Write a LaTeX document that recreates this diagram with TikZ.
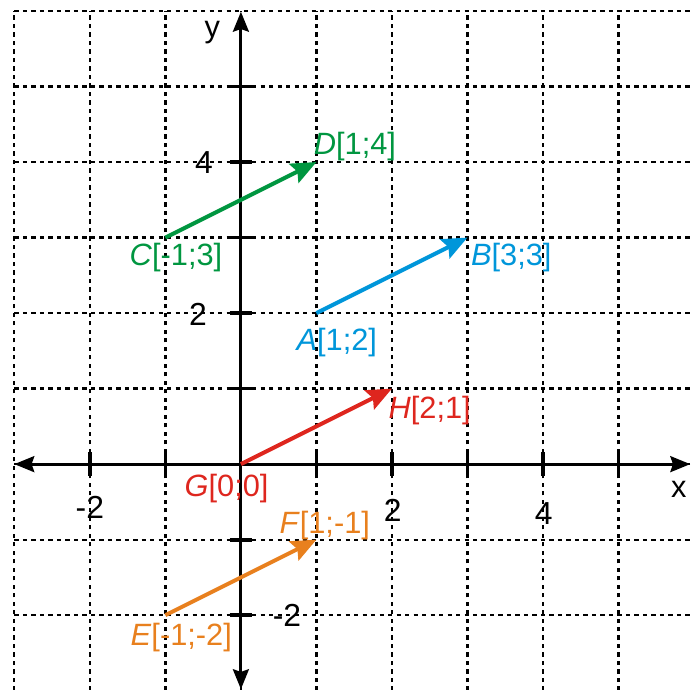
\documentclass[tikz,border=0pt]{standalone}
\usepackage{fontspec}
\setmainfont{Liberation Sans}
\usetikzlibrary{arrows.meta}
\definecolor{vgreen}{RGB}{0,150,64}
\definecolor{vblue}{RGB}{0,150,218}
\definecolor{vred}{RGB}{222,38,30}
\definecolor{vorange}{RGB}{232,128,30}

\begin{document}
\begin{tikzpicture}[font=\fontsize{11.6}{13}\selectfont,
    gridline/.style={black, line width=0.85pt, dash pattern=on 1.6pt off 1.6pt},
    axis/.style={black, line width=1.1pt, {Stealth[length=7.5pt,width=6pt,inset=1pt]}-{Stealth[length=7.5pt,width=6pt,inset=1pt]}},
    tick/.style={black, line width=1.4pt},
    vec/.style={line width=1.5pt, -{Stealth[length=9.5pt,width=8pt,inset=1.5pt]}},
    num/.style={font=\fontsize{12}{13}\selectfont}]
    \useasboundingbox (-3.19,-2.98) rectangle (5.96,6.146);
    % Gitter
    \draw[gridline] (-3,-3) grid (6,6);
    % Achsen
    \coordinate (xl) at (-3,0);
    \coordinate (xr) at (5.95,0);
    \coordinate (yb) at (0,-2.98);
    \coordinate (yt) at (0,5.99);
    \draw[axis] (xl) -- (xr);
    \draw[axis] (yb) -- (yt);
    \foreach \t in {-2,-1,1,2,3,4,5} {
        \draw[tick] (\t,-0.16) -- (\t,0.16);
        \draw[tick] (-0.15,\t) -- (0.15,\t);
    }
    % Beschriftung der Achsen
    \node (lx) at (5.8,-0.34) {x};
    \node (ly) at (-0.38,5.72) {y};
    \node[num] (nxm2) at (-2,-0.57) {-2};
    \node[num] (nx2) at (2.01,-0.61) {2};
    \node[num] (nx4) at (4.01,-0.65) {4};
    \node[num] (ny4) at (-0.49,4) {4};
    \node[num] (ny2) at (-0.57,1.98) {2};
    \node[num] (nym2) at (0.61,-2) {-2};
    % Punkte
    \coordinate (A) at (1,2);
    \coordinate (B) at (3,3);
    \coordinate (C) at (-1,3);
    \coordinate (D) at (1,4);
    \coordinate (E) at (-1,-2);
    \coordinate (F) at (1,-1);
    \coordinate (G) at (0,0);
    \coordinate (H) at (2,1);
    % Vektoren
    \draw[vec, vgreen] (C) -- (D);
    \draw[vec, vblue] (A) -- (B);
    \draw[vec, vred] (G) -- (H);
    \draw[vec, vorange] (E) -- (F);
    % Bezeichnungen
    \node[text=vgreen] (labC) at (-0.86,2.73) {\textit{C}[-1;3]};
    \node[text=vgreen] (labD) at (1.51,4.2) {\textit{D}[1;4]};
    \node[text=vblue] (labA) at (1.27,1.61) {\textit{A}[1;2]};
    \node[text=vblue] (labB) at (3.58,2.74) {\textit{B}[3;3]};
    \node[text=vred] (labG) at (-0.19,-0.32) {\textit{G}[0;0]};
    \node[text=vred] (labH) at (2.5,0.715) {\textit{H}[2;1]};
    \node[text=vorange] (labE) at (-0.79,-2.29) {\textit{E}[-1;-2]};
    \node[text=vorange] (labF) at (1.11,-0.81) {\textit{F}[1;-1]};
\end{tikzpicture}
\end{document}
